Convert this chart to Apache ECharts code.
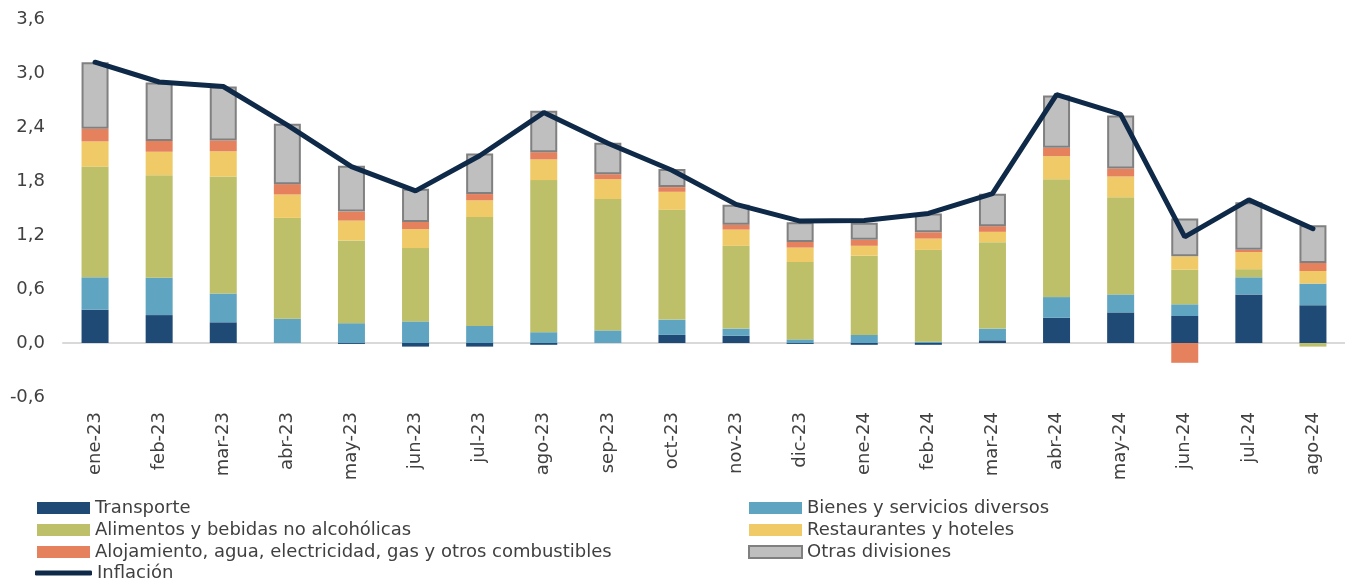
<!DOCTYPE html>
<html>
<head>
<meta charset="utf-8">
<script src="https://cdn.jsdelivr.net/npm/echarts@6/dist/echarts.min.js"></script>
<style>
  html, body { margin: 0; padding: 0; background: #fff; }
  #main { width: 1345px; height: 581px; }
</style>
</head>
<body>
<div id="main"></div>
<script>
// meses
const meses = ['ene-23','feb-23','mar-23','abr-23','may-23','jun-23','jul-23','ago-23','sep-23','oct-23',
               'nov-23','dic-23','ene-24','feb-24','mar-24','abr-24','may-24','jun-24','jul-24','ago-24'];

// contribuciones por división (puntos porcentuales)
const transporte   = [0.37, 0.31, 0.23, 0.00, -0.01, -0.04, -0.04, -0.02, 0.00, 0.09, 0.08, -0.01, -0.02, -0.02, 0.03, 0.28, 0.34, 0.30, 0.54, 0.42];
const bienes       = [0.36, 0.415, 0.32, 0.27, 0.22, 0.24, 0.19, 0.12, 0.14, 0.17, 0.08, 0.04, 0.09, 0.015, 0.13, 0.23, 0.20, 0.13, 0.19, 0.24];
const alimentos    = [1.23, 1.14, 1.30, 1.12, 0.92, 0.815, 1.21, 1.69, 1.46, 1.22, 0.92, 0.86, 0.88, 1.02, 0.96, 1.31, 1.08, 0.385, 0.09, -0.04];
const restaurantes = [0.28, 0.26, 0.28, 0.26, 0.22, 0.21, 0.185, 0.23, 0.22, 0.20, 0.18, 0.16, 0.11, 0.125, 0.115, 0.256, 0.23, 0.148, 0.19, 0.14];
const alojamiento  = [0.14, 0.12, 0.12, 0.115, 0.10, 0.08, 0.07, 0.08, 0.055, 0.052, 0.055, 0.063, 0.066, 0.07, 0.063, 0.093, 0.089, -0.22, 0.025, 0.089];
const otras        = [0.74, 0.65, 0.60, 0.67, 0.51, 0.37, 0.45, 0.46, 0.35, 0.20, 0.22, 0.22, 0.19, 0.21, 0.36, 0.58, 0.59, 0.42, 0.53, 0.42];
const inflacion    = [3.12, 2.90, 2.85, 2.42, 1.96, 1.69, 2.08, 2.56, 2.22, 1.92, 1.54, 1.355, 1.36, 1.44, 1.66, 2.76, 2.54, 1.18, 1.59, 1.27];

const FONT = 'DejaVu Sans';
const TXT = '#404040';
const FS = 18;

const chart = echarts.init(document.getElementById('main'));

function barra (name, data, color, extra) {
    return Object.assign({
        name: name,
        type: 'bar',
        stack: 'total',
        barWidth: 27,
        xAxisIndex: 0,
        itemStyle: { color: color },
        data: data
    }, extra || {})
}

function leyenda (left, top, data, extra) {
    return Object.assign({
        orient: 'vertical',
        left: left,
        top: top,
        padding: 0,
        icon: 'rect',
        itemWidth: 53,
        itemHeight: 12,
        itemGap: 4,
        textStyle: { color: TXT, fontSize: FS, lineHeight: 18, fontFamily: FONT },
        data: data
    }, extra || {})
}

chart.setOption({
    animation: false,
    textStyle: { fontFamily: FONT },
    grid: { left: 63, right: -14, top: 19, bottom: 184 },
    legend: [
        leyenda(37, 499, ['Transporte', 'Alimentos y bebidas no alcohólicas',
                          'Alojamiento, agua, electricidad, gas y otros combustibles']),
        leyenda(748, 499, ['Bienes y servicios diversos', 'Restaurantes y hoteles', 'Otras divisiones']),
        leyenda(35, 564, [{ name: 'Inflación', icon: 'roundRect' }], { itemWidth: 57, itemHeight: 5 })
    ],
    xAxis: [
        {
            type: 'category',
            data: meses,
            axisLine: { show: false, onZero: false },
            axisTick: { show: false },
            axisLabel: { rotate: 90, margin: 15, color: TXT, fontSize: FS, fontFamily: FONT }
        },
        {
            // línea del cero
            type: 'category',
            data: meses,
            position: 'bottom',
            axisLine: { show: true, onZero: true, lineStyle: { color: '#d9d9d9', width: 2 } },
            axisTick: { show: false },
            axisLabel: { show: false }
        }
    ],
    yAxis: {
        type: 'value',
        min: -0.6,
        max: 3.6,
        interval: 0.6,
        splitLine: { show: false },
        axisLine: { show: false },
        axisTick: { show: false },
        axisLabel: {
            color: TXT, fontSize: FS, margin: 18, fontFamily: FONT,
            formatter: v => v.toFixed(1).replace('.', ',')
        }
    },
    series: [
        barra('Transporte', transporte, '#1f4a75'),
        barra('Bienes y servicios diversos', bienes, '#5fa4c1'),
        barra('Alimentos y bebidas no alcohólicas', alimentos, '#bdbf69'),
        barra('Restaurantes y hoteles', restaurantes, '#efca66'),
        barra('Alojamiento, agua, electricidad, gas y otros combustibles', alojamiento, '#e5825d'),
        barra('Otras divisiones', otras, '#bfbfbf', { itemStyle: { color: '#bfbfbf', borderColor: '#808080', borderWidth: 2 } }),
        {
            name: 'Inflación',
            type: 'line',
            xAxisIndex: 0,
            symbol: 'none',
            z: 5,
            lineStyle: { color: '#0f2a48', width: 5, cap: 'round' },
            itemStyle: { color: '#0f2a48' },
            data: inflacion
        }
    ]
})

window.addEventListener('resize', () => {
    chart.resize()
})
</script>
</body>
</html>
